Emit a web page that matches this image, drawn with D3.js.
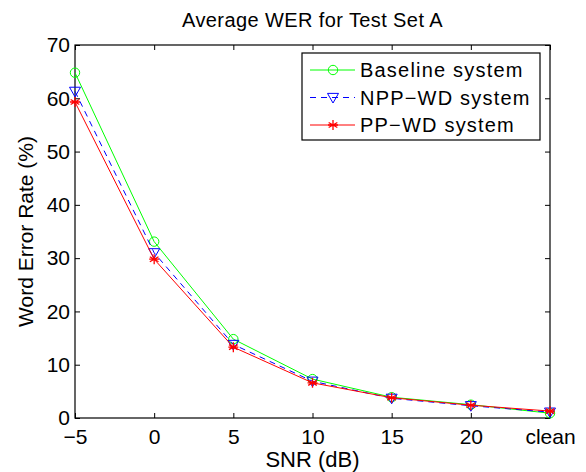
<!DOCTYPE html>
<html>
<head>
<meta charset="utf-8">
<script src="https://cdn.jsdelivr.net/npm/d3@7"></script>
<style>
  body { margin: 0; background: #fff; }
  svg { font-family: "Liberation Sans", Arial, sans-serif; }
  .axis text { font-size: 21px; fill: #000; }
  .axis path, .axis line { stroke: #000; }
</style>
</head>
<body>
<svg id="chart" width="586" height="472"></svg>
<script>
// Data
var snrLabels = ['-5', '0', '5', '10', '15', '20', 'clean'];
var baseline = [64.8, 33.1, 14.8, 7.3, 3.9, 2.5, 0.9];
var nppWd    = [61.3, 31.0, 13.8, 6.9, 3.7, 2.3, 1.1];
var ppWd     = [59.3, 29.8, 13.3, 6.6, 3.8, 2.4, 1.3];
var yTicks = [0, 10, 20, 30, 40, 50, 60, 70];

var series = [
  {name: 'Baseline system', values: baseline, color: '#00ff00', dash: null, marker: 'circle'},
  {name: 'NPP\u2212WD system', values: nppWd, color: '#0000ff', dash: '6,5', marker: 'triangle'},
  {name: 'PP\u2212WD system', values: ppWd, color: '#ff0000', dash: null, marker: 'star'}
];

var svg = d3.select('#chart');
// plot box (don't use "top" - it clashes with window.top)
var plotL = 75, plotR = 550, plotT = 45, plotB = 418;

var x = d3.scalePoint().domain(snrLabels).range([plotL, plotR]);
var y = d3.scaleLinear().domain([0, 70]).range([plotB, plotT]);

// frame
svg.append('rect')
  .attr('x', plotL).attr('y', plotT)
  .attr('width', plotR - plotL).attr('height', plotB - plotT)
  .attr('fill', 'none').attr('stroke', '#000').attr('stroke-width', 1.2);

// axes with inward ticks
var xAxis = d3.axisBottom(x).tickSizeInner(-5).tickSizeOuter(0).tickPadding(11)
  .tickFormat(function(d) { return d.replace('-', '\u2212'); });
svg.append('g').attr('class', 'axis').attr('transform', 'translate(0,' + plotB + ')').call(xAxis);
svg.append('g').attr('class', 'axis').attr('transform', 'translate(0,' + plotT + ')')
  .call(d3.axisTop(x).tickSizeInner(-5).tickSizeOuter(0).tickFormat(''));

var yAxis = d3.axisLeft(y).tickValues(yTicks).tickSizeInner(-5).tickSizeOuter(0).tickPadding(5);
svg.append('g').attr('class', 'axis').attr('transform', 'translate(' + plotL + ',0)').call(yAxis);
svg.append('g').attr('class', 'axis').attr('transform', 'translate(' + plotR + ',0)')
  .call(d3.axisRight(y).tickValues(yTicks).tickSizeInner(-5).tickSizeOuter(0).tickFormat(''));
svg.selectAll('.axis .domain').remove();

// markers
function drawMarker(g, type, color, cx, cy) {
  if (type === 'circle') {
    g.append('circle').attr('cx', cx).attr('cy', cy).attr('r', 4.7)
      .attr('fill', 'none').attr('stroke', color).attr('stroke-width', 1);
  } else if (type === 'triangle') {
    var s = 5.5;
    g.append('path')
      .attr('d', 'M' + (cx - s) + ',' + (cy - s * 0.75) + 'L' + (cx + s) + ',' + (cy - s * 0.75) + 'L' + cx + ',' + (cy + s) + 'Z')
      .attr('fill', 'none').attr('stroke', color).attr('stroke-width', 1);
  } else {
    var r = 5, d = '';
    [0, 60, 120].forEach(function(a) {
      var t = (a + 90) * Math.PI / 180;
      d += 'M' + (cx - r * Math.cos(t)) + ',' + (cy - r * Math.sin(t)) + 'L' + (cx + r * Math.cos(t)) + ',' + (cy + r * Math.sin(t));
    });
    d += 'M' + (cx - r) + ',' + cy + 'L' + (cx + r) + ',' + cy;
    g.append('path').attr('d', d).attr('stroke', color).attr('stroke-width', 1.3);
  }
}

var line = d3.line()
  .x(function(d, i) { return x(snrLabels[i]); })
  .y(function(d) { return y(d); });

series.forEach(function(s) {
  var g = svg.append('g');
  g.append('path').datum(s.values).attr('d', line)
    .attr('fill', 'none').attr('stroke', s.color).attr('stroke-width', 1)
    .attr('stroke-dasharray', s.dash);
  s.values.forEach(function(v, i) {
    drawMarker(g, s.marker, s.color, x(snrLabels[i]), y(v));
  });
});

// legend
var lg = svg.append('g');
lg.append('rect').attr('x', 302).attr('y', 53).attr('width', 238).attr('height', 87)
  .attr('fill', '#fff').attr('stroke', '#000').attr('stroke-width', 1.2);
series.forEach(function(s, i) {
  var ly = 70 + i * 27.5;
  lg.append('line').attr('x1', 310).attr('x2', 355).attr('y1', ly).attr('y2', ly)
    .attr('stroke', s.color).attr('stroke-width', 1).attr('stroke-dasharray', s.dash);
  drawMarker(lg, s.marker, s.color, 333, ly);
  lg.append('text').attr('x', 360).attr('y', ly + 7).attr('font-size', 20)
    .attr('letter-spacing', 1.2).text(s.name);
});

// titles
svg.append('text').attr('x', (plotL + plotR) / 2).attr('y', 27).attr('text-anchor', 'middle')
  .attr('font-size', 20).attr('letter-spacing', 0.4).text('Average WER for Test Set A');
svg.append('text').attr('x', (plotL + plotR) / 2).attr('y', 467).attr('text-anchor', 'middle')
  .attr('font-size', 22).text('SNR (dB)');
svg.append('text').attr('transform', 'translate(33,' + ((plotT + plotB) / 2) + ')rotate(-90)')
  .attr('text-anchor', 'middle').attr('font-size', 21).text('Word Error Rate (%)');
</script>
</body>
</html>
